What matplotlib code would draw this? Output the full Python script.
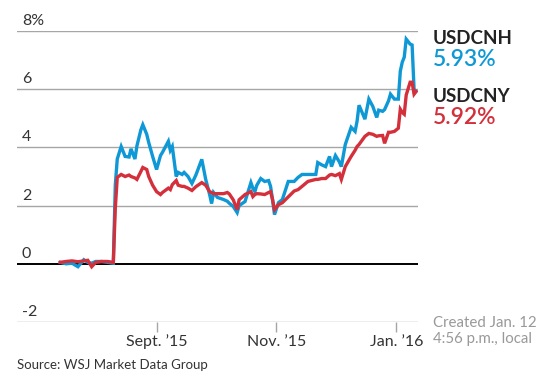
import numpy as np
import pandas as pd
import matplotlib
matplotlib.use('Agg')
import matplotlib.pyplot as plt
import matplotlib.dates as mdates
import matplotlib.transforms as mtransforms

plt.rcParams['font.family'] = ['Lato', 'DejaVu Sans']

# daily readings, percent change vs. mid-July
dates = ['2015-07-14', '2015-07-17', '2015-07-20', '2015-07-23', '2015-07-26', '2015-07-28',
         '2015-07-30', '2015-08-01', '2015-08-04', '2015-08-07', '2015-08-10', '2015-08-11',
         '2015-08-12', '2015-08-14', '2015-08-16', '2015-08-18', '2015-08-19', '2015-08-21',
         '2015-08-22', '2015-08-24', '2015-08-25', '2015-08-27', '2015-08-28', '2015-08-30',
         '2015-09-01', '2015-09-03', '2015-09-04', '2015-09-07', '2015-09-08', '2015-09-09',
         '2015-09-11', '2015-09-12', '2015-09-14', '2015-09-15', '2015-09-17', '2015-09-19',
         '2015-09-21', '2015-09-24', '2015-09-26', '2015-09-28', '2015-09-29', '2015-09-30',
         '2015-10-02', '2015-10-05', '2015-10-07', '2015-10-08', '2015-10-10', '2015-10-12',
         '2015-10-13', '2015-10-16', '2015-10-19', '2015-10-20', '2015-10-21', '2015-10-22',
         '2015-10-24', '2015-10-26', '2015-10-28', '2015-10-29', '2015-10-30', '2015-10-31',
         '2015-11-02', '2015-11-04', '2015-11-07', '2015-11-10', '2015-11-12', '2015-11-14',
         '2015-11-17', '2015-11-21', '2015-11-22', '2015-11-24', '2015-11-26', '2015-11-28',
         '2015-11-29', '2015-12-01', '2015-12-03', '2015-12-04', '2015-12-06', '2015-12-09',
         '2015-12-11', '2015-12-12', '2015-12-13', '2015-12-16', '2015-12-18', '2015-12-20',
         '2015-12-22', '2015-12-23', '2015-12-25', '2015-12-26', '2015-12-28', '2015-12-29',
         '2015-12-31', '2016-01-02', '2016-01-03', '2016-01-04', '2016-01-05', '2016-01-06',
         '2016-01-08', '2016-01-09', '2016-01-10', '2016-01-11']

usdcnh = [0.05, 0.0, 0.02, -0.1, 0.14, 0.05,
          0.02, 0.08, 0.08, 0.05, 0.02, 2.7,
          3.6, 4.03, 3.69, 3.67, 3.95, 3.6,
          4.05, 4.6, 4.78, 4.45, 4.17, 3.69,
          3.24, 3.72, 3.83, 4.21, 3.9, 4.03,
          3.0, 3.14, 3.07, 3.14, 3.0, 2.76,
          3.05, 3.59, 2.9, 2.38, 2.07, 2.45,
          2.28, 2.21, 2.15, 2.08, 1.97, 1.76,
          2.0, 2.14, 2.79, 2.6, 2.48, 2.7,
          2.93, 2.83, 2.86, 2.66, 2.2, 1.69,
          2.10, 2.21, 2.83, 2.83, 2.97, 3.07,
          3.07, 3.07, 3.48, 3.4, 3.34, 3.69,
          3.34, 3.72, 3.5, 3.34, 4.10, 4.69,
          4.55, 4.9, 5.45, 4.97, 5.66, 5.41,
          5.03, 5.28, 5.24, 5.3, 5.6, 5.83,
          5.66, 5.66, 6.62, 6.93, 7.1, 7.72,
          7.55, 7.52, 6.0, 5.93]

usdcny = [0.05, 0.08, 0.1, 0.07, 0.1, 0.12,
          -0.1, 0.05, 0.08, 0.08, 0.05, 1.9,
          2.97, 3.07, 3.0, 3.05, 3.0, 2.95,
          2.9, 3.17, 3.31, 3.24, 3.0, 2.7,
          2.48, 2.38, 2.45, 2.6, 2.55, 2.72,
          2.86, 2.7, 2.66, 2.66, 2.6, 2.52,
          2.65, 2.79, 2.7, 2.48, 2.45, 2.41,
          2.41, 2.41, 2.45, 2.4, 2.2, 1.86,
          2.2, 2.38, 2.48, 2.31, 2.38, 2.41,
          2.4, 2.38, 2.45, 2.48, 2.21, 1.86,
          2.03, 2.1, 2.3, 2.5, 2.55, 2.66,
          2.83, 2.9, 2.9, 2.93, 2.93, 3.05,
          3.07, 3.03, 3.10, 2.9, 3.34, 3.69,
          3.9, 4.03, 4.10, 4.38, 4.48, 4.45,
          4.38, 4.40, 4.41, 4.14, 4.52, 4.52,
          4.55, 4.66, 5.31, 5.2, 5.14, 5.8,
          6.24, 6.24, 5.83, 5.92]

y_ticks = [-2, 0, 2, 4, 6, 8]
x_ticks = ['2015-09-01', '2015-11-01', '2016-01-01']
x_labels = ['Sept. \u201915', 'Nov. \u201915', 'Jan. \u201916']

BLUE = '#0f98d6'
RED = '#d4303b'
GRID = '#a6a6a6'
TEXT = '#333333'


def plot_chart():
    d = pd.to_datetime(dates)
    fig = plt.figure(figsize=(5.6, 3.86), dpi=100)
    ax = fig.add_axes([17 / 560, 1 - 322 / 386, 401 / 560, 291 / 386])

    for y in y_ticks:
        if y == 0:
            ax.axhline(y, color='black', lw=1.4, zorder=1)
        else:
            ax.axhline(y, color=GRID, lw=1.0, zorder=1)

    ax.plot(d, usdcnh, color=BLUE, lw=2.4, solid_joinstyle='miter', zorder=3)
    ax.plot(d, usdcny, color=RED, lw=2.4, solid_joinstyle='miter', zorder=4)

    ax.set_ylim(-2, 8)
    ax.set_xlim(pd.Timestamp('2015-06-22'), pd.Timestamp('2016-01-12'))
    for s in ax.spines.values():
        s.set_visible(False)
    ax.set_yticks([])
    ax.set_xticks(pd.to_datetime(x_ticks))
    ax.set_xticklabels(x_labels)
    ax.tick_params(axis='x', length=7, width=1, color=GRID, labelsize=11.5,
                   labelcolor=TEXT, pad=2)
    ax.patch.set_alpha(0)

    # y labels sit above the gridlines at the left
    tr = mtransforms.blended_transform_factory(ax.transAxes, ax.transData)
    for y in y_ticks:
        lab = f'{y}%' if y == 8 else f'{y}'
        ax.text(5 / 401, y + 0.1, lab, transform=tr, fontsize=11.5, color=TEXT,
                ha='left', va='bottom')

    # series labels on the right
    fig.text(433 / 560, 1 - 39 / 386, 'USDCNH', fontsize=13.5, fontweight='bold',
             color='#222222', va='center', ha='left')
    fig.text(433 / 560, 1 - 59 / 386, f'{usdcnh[-1]:.2f}%', fontsize=16.5,
             fontweight='semibold', color=BLUE, va='center', ha='left')
    fig.text(433 / 560, 1 - 97 / 386, 'USDCNY', fontsize=13.5, fontweight='bold',
             color='#222222', va='center', ha='left')
    fig.text(433 / 560, 1 - 117 / 386, f'{usdcny[-1]:.2f}%', fontsize=16.5,
             fontweight='semibold', color=RED, va='center', ha='left')

    fig.text(433 / 560, 1 - 323 / 386, 'Created Jan. 12', fontsize=10.8, color='#999999',
             va='center', ha='left')
    fig.text(433 / 560, 1 - 339 / 386, '4:56 p.m., local', fontsize=10.8, color='#999999',
             va='center', ha='left')
    fig.text(17 / 560, 1 - 365 / 386, 'Source: WSJ Market Data Group', fontsize=9.5,
             color=TEXT, va='center', ha='left')

    fig.savefig('out.png', dpi=100)
    plt.close(fig)


if __name__ == '__main__':
    plot_chart()
